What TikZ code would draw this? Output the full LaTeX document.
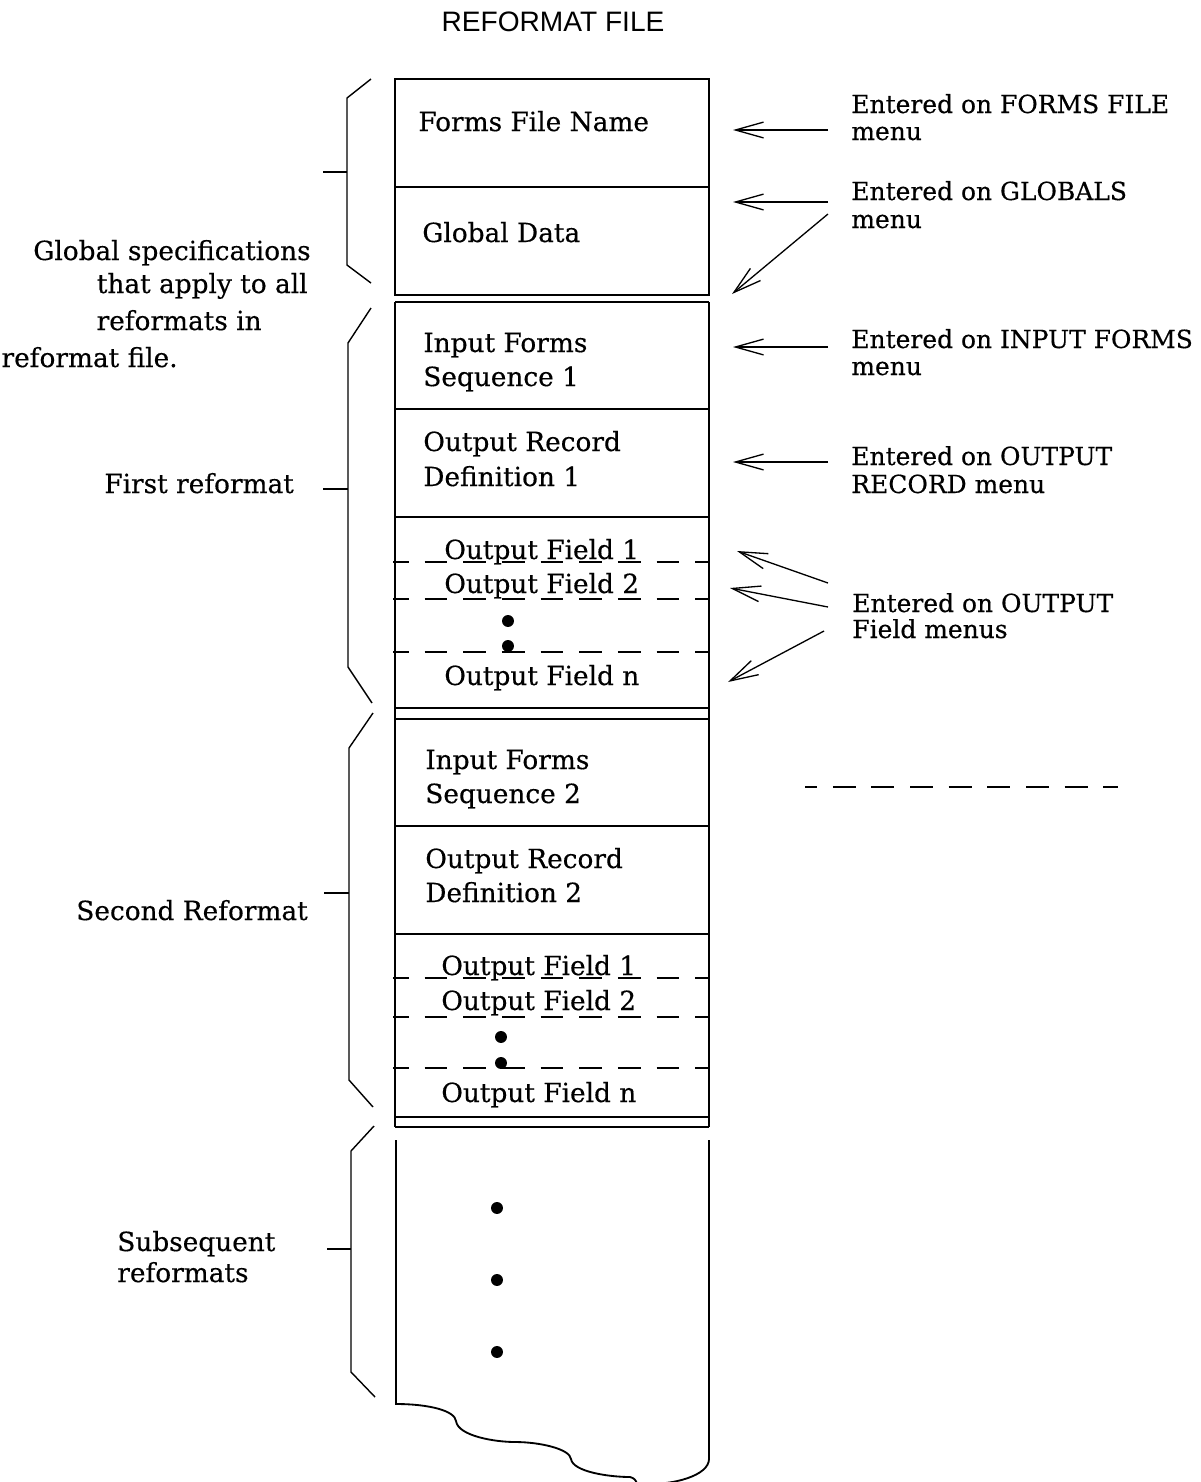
\documentclass[tikz,border=0pt]{standalone}
\usepackage{fontspec}
\setmainfont[FakeBold=0.4]{DejaVu Serif}
\newfontfamily\titlefont{Liberation Sans}
\usetikzlibrary{arrows.meta}

\tikzset{
  txt/.style={inner sep=0pt, anchor=base west, font=\fontsize{15}{18}\selectfont},
  txtr/.style={txt, anchor=base east},
  note/.style={txt, font=\fontsize{14.2}{17}\selectfont},
  frame/.style={line width=1.05pt},
  fielddash/.style={line width=0.9pt, dash pattern=on 13pt off 9pt, dash phase=4pt},
  callout/.style={line width=0.75pt, -{Straight Barb[length=16pt,width=9pt]}},
  brace/.style={line width=0.8pt},
  dot/.style={circle, fill, inner sep=0pt, minimum size=6.8pt}
}

\begin{document}
\begin{tikzpicture}[x=0.02cm, y=-0.02cm]
\useasboundingbox (0,0) rectangle (1201,1482);

% title
\node[inner sep=0pt, anchor=base, font=\titlefont\fontsize{16}{19}\selectfont] (title) at (553,31) {REFORMAT FILE};

% global part of the file
\draw[frame] (395,79) rectangle (709,295);
\draw[frame] (395,187) -- (709,187);
\node[txt] (ffname) at (418,131) {Forms File Name};
\node[txt] (gdata) at (422,242) {Global Data};

% the two reformats
\draw[frame] (395,302) -- (395,1127);
\draw[frame] (709,302) -- (709,1127);
\foreach \yy in {302,409,517,708,719,826,934,1117,1127}
  \draw[frame] (395,\yy) -- (709,\yy);

\node[txt] (in1a) at (423,352) {Input Forms};
\node[txt] (in1b) at (423,386) {Sequence 1};
\node[txt] (or1a) at (423,451) {Output Record};
\node[txt] (or1b) at (423,486) {Definition 1};
\foreach \yy in {562,599,652}
  \draw[fielddash] (393,\yy) -- (709,\yy);
\node[txt] (of11) at (444,559) {Output Field 1};
\node[txt] (of12) at (444,593) {Output Field 2};
\node[dot] (d11) at (508,621) {};
\node[dot] (d12) at (508,646) {};
\node[txt] (of1n) at (444,685) {Output Field n};

\node[txt] (in2a) at (425,769) {Input Forms};
\node[txt] (in2b) at (425,803) {Sequence 2};
\node[txt] (or2a) at (425,868) {Output Record};
\node[txt] (or2b) at (425,902) {Definition 2};
\foreach \yy in {978,1017,1068}
  \draw[fielddash] (393,\yy) -- (709,\yy);
\node[txt] (of21) at (441,975) {Output Field 1};
\node[txt] (of22) at (441,1010) {Output Field 2};
\node[dot] (d21) at (501,1037) {};
\node[dot] (d22) at (501,1063) {};
\node[txt] (of2n) at (441,1102) {Output Field n};

% subsequent reformats, torn edge at the bottom
\draw[frame] (396,1140) -- (396,1404)
  .. controls (430,1404) and (455,1411) .. (456,1421)
  .. controls (458,1436) and (495,1442) .. (515,1442)
  .. controls (540,1442) and (570,1449) .. (571,1459)
  .. controls (573,1472) and (610,1477) .. (630,1477)
  .. controls (634,1478) and (636,1480) .. (637,1484)
  .. controls (675,1486) and (709,1475) .. (709,1459)
  -- (709,1140);
\node[dot] (d31) at (497,1208) {};
\node[dot] (d32) at (497,1280) {};
\node[dot] (d33) at (497,1352) {};

% braces on the left
\draw[brace] (371,79) -- (347,98) -- (347,265) -- (371,283);
\draw[brace] (323,172) -- (347,172);
\draw[brace] (371,308) -- (348,343) -- (348,667) -- (372,703);
\draw[brace] (323,489) -- (348,489);
\draw[brace] (373,713) -- (349,748) -- (349,1080) -- (373,1107);
\draw[brace] (324,893) -- (349,893);
\draw[brace] (374,1126) -- (351,1151) -- (351,1372) -- (375,1397);
\draw[brace] (327,1249) -- (351,1249);

% left labels
\node[txtr] (gs1) at (311,260) {Global specifications};
\node[txtr] (gs2) at (308,293) {that apply to all};
\node[txtr] (gs3) at (262,330) {reformats in};
\node[txtr] (gs4) at (178,367) {reformat file.};
\node[txt] (first) at (104,493) {First reformat};
\node[txt] (second) at (76,920) {Second Reformat};
\node[txt] (subs1) at (117,1251) {Subsequent};
\node[txt] (subs2) at (117,1282) {reformats};

% right labels
\node[note] (e1a) at (851,113) {Entered on FORMS FILE};
\node[note] (e1b) at (851,140) {menu};
\node[note] (e2a) at (851,200) {Entered on GLOBALS};
\node[note] (e2b) at (851,228) {menu};
\node[note] (e3a) at (851,348) {Entered on INPUT FORMS};
\node[note] (e3b) at (851,375) {menu};
\node[note] (e4a) at (851,465) {Entered on OUTPUT};
\node[note] (e4b) at (851,493) {RECORD menu};
\node[note] (e5a) at (852,612) {Entered on OUTPUT};
\node[note] (e5b) at (852,638) {Field menus};

% callout arrows
\coordinate (s1) at (828,130); \coordinate (t1) at (733,130);
\coordinate (s2) at (828,202); \coordinate (t2) at (733,202);
\coordinate (s3) at (828,214); \coordinate (t3) at (732,294);
\coordinate (s4) at (828,347); \coordinate (t4) at (733,347);
\coordinate (s5) at (828,462); \coordinate (t5) at (733,462);
\coordinate (s6) at (828,583); \coordinate (t6) at (737,551);
\coordinate (s7) at (828,607); \coordinate (t7) at (730,588);
\coordinate (s8) at (824,631); \coordinate (t8) at (728,682);
\foreach \i in {1,...,8}
  \draw[callout] (s\i) -- (t\i);

% continuation mark
\coordinate (c1) at (805,787); \coordinate (c2) at (1118,787);
\draw[line width=0.9pt, dash pattern=on 13pt off 9pt, dash phase=6.2pt] (c1) -- (c2);
\end{tikzpicture}
\end{document}
